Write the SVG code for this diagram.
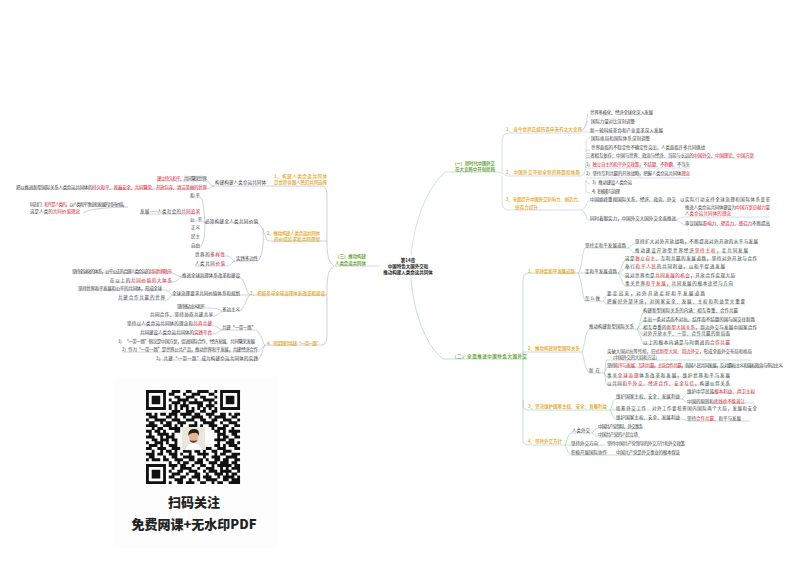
<svg xmlns="http://www.w3.org/2000/svg" width="800" height="565" viewBox="0 0 800 565">
<style>
text{font-family:"Noto Sans CJK SC","Liberation Sans",sans-serif;font-size:4.5px;fill:#444;dominant-baseline:central}
.o{fill:#e8a317;font-weight:500}
.g{fill:#4f9a10;font-weight:500}
.t{fill:#222;font-weight:700}
.r{fill:#d8202a}
.c{fill:none;stroke-width:.5;opacity:.75}
.b{stroke:#7d7dc9}
.u{stroke:#7fa8dc}
.n{stroke:#5fae8c}
.q{font-size:13px;font-weight:900;fill:#222;text-anchor:middle}
</style>
<rect width="800" height="565" fill="#fff"/>
<g id="connectors">
<path class="c u" d="M411 255C414 225 425 190 445 172H497C501 172 503 174 507 176H582M502 172V142C502 137 504 133 509 133H582M502 176V202C502 207 504 210 509 210H582"/>
<path class="c u" d="M582 132H663M582 130C586 128 586 122 588 114M582 131C587 126 586 120 588 122M582 176C586 174 585 168 586 160V142C586 139 588 138 590 138M586 150H590M586 158H754M586 166C586 168 586 168 588 168H690M586 178H690M586 180V190C586 192 588 193 590 193M586 180C586 182 588 184 590 184M582 210C586 208 586 204 588 201H676M582 210C586 213 586 218 588 220H676M676 220C680 218 681 218 683 217H770M676 220C680 222 682 224 685 225H770"/>
<path class="c n" d="M411 278C413 310 425 345 443 359H527M523 359V280C523 276 525 273 528 273H578M523 359V352H582M523 359V405C523 408 525 410 528 410H610M523 400V440C523 443 525 445 528 445H565"/>
<path class="c n" d="M578 273C582 270 582 252 585 248H628M578 273H618M578 273C582 280 582 295 585 301H603M628 248C632 246 632 244 634 243H758M628 248C632 250 632 252 634 253H748M618 273C622 270 622 262 625 260H757M618 273C622 272 623 269 625 268H725M618 273C622 274 623 276 625 277H735M618 273C622 278 622 284 625 286H733M603 301C606 300 605 296 607 295H705M603 301C605 302 605 304 607 304H745"/>
<path class="c n" d="M582 352C585 345 585 332 589 329H637M582 352C585 362 585 368 589 373H604M637 329C641 325 640 315 643 313H738M637 329C641 326 641 323 643 321H755M637 329H757M637 329C641 332 641 335 643 336H730M637 329C641 335 641 342 643 344H730M604 373C606 370 605 362 607 360H750M604 373C606 372 606 368 607 367H783M604 373C606 375 605 376 607 377H730M604 373C606 378 605 383 607 385H730"/>
<path class="c n" d="M610 410C613 405 612 400 616 399H682M610 410H650M610 410C613 415 612 418 616 419H682M682 399C685 397 685 394 687 393H755M682 399C685 400 685 402 687 403H755M682 419C685 420 685 420 687 421H750"/>
<path class="c n" d="M565 445C568 440 567 435 571 433H592M565 445H605M565 445C568 450 567 453 571 455H680M592 433C595 430 595 429 598 428H643M592 433C595 434 595 436 598 437H640"/>
<path class="c b" d="M379 266H334M334 266C327 262 327 250 327 240V195C327 190 325 186 322 186H214M334 266C327 270 327 280 327 295V335C327 342 325 345 322 345H265M327 241H268M327 295H250"/>
<path class="c b" d="M214 186C210 186 210 183 208 181H157M214 186C211 186 210 189 207 189H16M268 241C265 238 264 228 258 223H205M263 228C264 240 263 256 258 261H235M235 261C232 260 232 258 228 256H195M235 261C232 262 232 264 228 266H195M205 223C204 215 204 200 200 197H190M205 223C204 221 203 221 200 221H190M205 223C205 235 204 243 200 247H191M140 214H200M83 213C86 212 86 208 128 207"/>
<path class="c b" d="M250 295C245 290 246 282 240 277H182M250 295H172M250 295C245 300 246 306 240 311H222M182 277C178 276 177 275 172 273H72M182 277C178 279 177 282 172 282H110M172 295C170 293 170 292 165 290H78M172 295C170 297 170 300 165 300H118M222 311C219 310 219 308 205 308H177M222 311C219 313 218 316 213 316H150"/>
<path class="c b" d="M265 345C262 342 262 334 256 330H222M222 330C219 329 218 327 212 325H127M222 330C219 331 218 334 212 334H140M265 345C262 347 262 350 258 352H122M265 345C262 350 262 356 258 360H156"/>
</g>
<g id="root"><text class="t" x="408" y="260" text-anchor="middle">第14章</text><text class="t" x="408" y="266" text-anchor="middle">中国特色大国外交和</text><text class="t" x="408" y="272" text-anchor="middle">推动构建人类命运共同体</text></g>
<g id="b1"><text class="g" x="452" y="163" textLength="43">（一）新时代中国外交</text><text class="g" x="455" y="169" textLength="40">在大变局中开创新局</text></g>
<g id="b1-1"><text class="o" x="506" y="129" textLength="76">1、当今世界正经历百年未有之大变局</text></g>
<g id="b1-1a"><text x="590" y="112" textLength="63">世界多极化、经济全球化深入发展</text></g>
<g id="b1-1b"><text x="591" y="121" textLength="44">国际力量对比深刻调整</text></g>
<g id="b1-1c"><text x="590" y="130" textLength="73">新一轮科技革命和产业变革深入发展</text></g>
<g id="b1-2"><text class="o" x="506" y="172" textLength="74">2、中国外交开创全新的局面和格局</text></g>
<g id="b1-2a"><text x="591" y="138" textLength="59">国际格局和国际体系深刻调整</text></g>
<g id="b1-2b"><text x="591" y="147" textLength="114">世界面临的不稳定性不确定性突出，人类面临许多共同挑战</text></g>
<g id="b1-2c"><text x="586" y="155" textLength="168">三者相互依存：中国与世界、政治与经济、当前与长远的<tspan class="r">中国外交、中国理论、中国方案</tspan></text></g>
<g id="b1-2d"><text x="586" y="164" textLength="104">1）<tspan class="r">独立自主的和平外交政策，不结盟、不称霸</tspan>、不当头</text></g>
<g id="b1-2e"><text x="586" y="173" textLength="104">2）坚持互利共赢的开放战略，把握人类命运共同体<tspan class="r">理念</tspan></text></g>
<g id="b1-2f"><text x="592" y="182" textLength="40">3）推动建设人类命运</text></g>
<g id="b1-2g"><text x="592" y="191" textLength="28">4）积极参与治理</text></g>
<g id="b1-3"><text class="o" x="506" y="199" textLength="76">3、全面提升中国外交影响力、创造力、</text><text class="o" x="515" y="207" textLength="23">感召力提升</text></g>
<g id="b1-3a"><text x="590" y="199" textLength="86">中国始终重视国际关系、经济、政治、外交</text><text x="680" y="199" textLength="90">以实际行动支持全球治理和国际体系变革</text></g>
<g id="b1-3b"><text x="590" y="218" textLength="86">同时着眼实力，中国外交大国外交全面推进</text></g>
<g id="b1-3c"><text x="685" y="207" textLength="85">推进人类命运共同体建设为<tspan class="r">中国方案贡献力量</tspan></text><text x="685" y="213" textLength="46" class="r">人类命运共同体的理念</text></g>
<g id="b1-3d"><text x="685" y="223" textLength="85">审议国际<tspan class="r">影响力、塑造力、感召力</tspan>不断提高</text></g>
<g id="b2"><text class="g" x="452" y="356" textLength="75">（二）全面推进中国特色大国外交</text></g>
<g id="b2-1"><text class="o" x="528" y="271" textLength="47">1、坚持走和平发展道路</text></g>
<g id="b2-1a"><text x="585" y="245" textLength="41">坚持走和平发展道路</text></g>
<g id="b2-1a1"><text x="635" y="241" textLength="123">坚持扩大对外开放战略，不断提高对外开放的水平与发展</text></g>
<g id="b2-1a2"><text x="635" y="250" textLength="113">推动建设开放型世界经济<tspan class="r">坚持主权</tspan>，走共同发展</text></g>
<g id="b2-1b"><text x="585" y="271" textLength="32">走和平发展道路</text></g>
<g id="b2-1b1"><text x="625" y="258" textLength="132">这是<tspan class="r">独立自主</tspan>、互利共赢的发展道路，坚持对外开放与合作</text></g>
<g id="b2-1b2"><text x="625" y="266" textLength="100">奉行<tspan class="r">和平人民</tspan>的共同利益，以和平促进发展</text></g>
<g id="b2-1b3"><text x="625" y="275" textLength="110">这对世界也是<tspan class="r">共同发展的机会</tspan>，开放合作实现大局</text></g>
<g id="b2-1b4"><text x="625" y="283" textLength="108">事关世界<tspan class="r">和平发展</tspan>，共同发展的根本途径与方向</text></g>
<g id="b2-1c"><text x="585" y="298" textLength="15">怎么做</text></g>
<g id="b2-1c1"><text x="607" y="293" textLength="98">要走出来，对外开放走好和平发展道路</text></g>
<g id="b2-1c2"><text x="607" y="301" textLength="138">把握好外部环境，对国家安全、发展、主权和利益至关重要</text></g>
<g id="b2-2"><text class="o" x="528" y="348" textLength="52">2、推动构建新型国际关系</text></g>
<g id="b2-2a"><text x="589" y="326" textLength="45">推动构建新型国际关系</text></g>
<g id="b2-2a1"><text x="643" y="310" textLength="95">构建新型国际关系的内涵：相互尊重、合作共赢</text></g>
<g id="b2-2a2"><text x="643" y="319" textLength="112">走出一条对话而不对抗、结伴而不结盟的国与国交往新路</text></g>
<g id="b2-2a3"><text x="643" y="327" textLength="114">相互尊重的<tspan class="r">新型大国关系</tspan>，周边外交与发展中国家合作</text></g>
<g id="b2-2a4"><text x="643" y="333" textLength="87">对外开放水平、一带、合作共赢的新局面</text></g>
<g id="b2-2a5"><text x="643" y="342" textLength="87">以上的根本内涵是与时俱进的<tspan class="r">合作共赢</tspan></text></g>
<g id="b2-2b"><text x="589" y="370" textLength="11">新在</text></g>
<g id="b2-2b1"><text x="607" y="351" textLength="145">突破大国对抗等传统，旧式<tspan class="r">新型大国、周边外交</tspan>，形成全面外交布局和格局</text><text x="610" y="357" textLength="50">（中国外交的大局和方法）</text></g>
<g id="b2-2b2"><text x="607" y="365" textLength="176">坚持<tspan class="r">和平与发展、互利共赢</tspan>，<tspan class="r">主张合作共赢</tspan>，各国人民共同发展，反对霸权主义和强权政治与单边主义</text></g>
<g id="b2-2b3"><text x="607" y="375" textLength="123">事关<tspan class="r">全球治理</tspan>体系改革和发展，维护世界和平与发展</text></g>
<g id="b2-2b4"><text x="607" y="383" textLength="123">以共同<tspan class="r">和平外交、经济合作、安全互信</tspan>，构建伙伴关系</text></g>
<g id="b2-3"><text class="o" x="528" y="406" textLength="79">3、坚决维护国家主权、安全、发展利益</text></g>
<g id="b2-3a"><text x="616" y="396" textLength="64">维护国家主权、安全、发展利益</text></g>
<g id="b2-3a1"><text x="687" y="391" textLength="68">维护中华民族<tspan class="r">根本利益、捍卫主权</tspan></text></g>
<g id="b2-3a2"><text x="687" y="401" textLength="58">中国的原则和<tspan class="r">底线绝不能退让</tspan></text></g>
<g id="b2-3b"><text x="616" y="408" textLength="30">统筹外交工作</text></g>
<g id="b2-3b1"><text x="652" y="408" textLength="105">对外工作要统筹国内国际两个大局，发展和安全</text></g>
<g id="b2-3c"><text x="616" y="417" textLength="64">维护国家主权、安全、发展利益</text></g>
<g id="b2-3c1"><text x="687" y="418" textLength="54">坚持<tspan class="r">合作共赢</tspan>、和平与发展</text></g>
<g id="b2-4"><text class="o" x="528" y="441" textLength="34">4、坚持外交方针</text></g>
<g id="b2-4a"><text x="572" y="430" textLength="18">人类外交</text></g>
<g id="b2-4a1"><text x="598" y="426" textLength="45">中国共产党领导、外交事务</text></g>
<g id="b2-4a2"><text x="598" y="434" textLength="40">中国共产党的人民立场</text></g>
<g id="b2-4b"><text x="571" y="443" textLength="27">坚持外交方向</text></g>
<g id="b2-4b1"><text x="607" y="443" textLength="78">坚持中国共产党领导的外交方针和外交政策</text></g>
<g id="b2-4c"><text x="571" y="452" textLength="36">积极开展国际协作</text></g>
<g id="b2-4c1"><text x="616" y="452" textLength="64">中国共产党是外交事业的根本保证</text></g>
<g id="b3"><text class="g" x="335" y="256" textLength="31">（三）推动构建</text><text class="g" x="335" y="263" textLength="31">人类命运共同体</text></g>
<g id="b3-1"><text class="o" x="274" y="176" textLength="53">1、构建人类命运共同体</text><text class="o" x="274" y="182" textLength="53">是世界各国人民的共同选择</text></g>
<g id="b3-1a"><text x="215" y="182" textLength="51">构建构建人类命运共同体</text></g>
<g id="b3-1a1"><text x="157" y="178" textLength="50"><tspan class="r">建立持久和平</tspan>、共同繁荣世界</text></g>
<g id="b3-1a2"><text x="16" y="187" textLength="191">把以推进新型国际关系人类命运共同体的<tspan class="r">持久和平、普遍安全、共同繁荣、开放包容、清洁美丽的世界</tspan></text></g>
<g id="b3-2"><text class="o" x="267" y="233" textLength="53">2、推动构建人类命运共同体</text><text class="o" x="274" y="239" textLength="46">的价值追求和共同理想</text></g>
<g id="b3-2a"><text x="205" y="221" textLength="53">必须构建全人类共同价值</text></g>
<g id="b3-2b"><text x="236" y="258" textLength="22">实践多边性</text></g>
<g id="b3-2a1"><text x="190" y="195" textLength="10">和平</text></g>
<g id="b3-2a2"><text x="30" y="204" textLength="97">同志们：<tspan class="r">和平是人类的</tspan>，以人类和平事业和发展的共同价值，</text><text x="30" y="211" textLength="50">这是人类的<tspan class="r">共同价值理念</tspan></text></g>
<g id="b3-2a3"><text x="140" y="211" textLength="60">发展——人类社会的<tspan class="r">共同追求</tspan></text></g>
<g id="b3-2a4"><text x="190" y="219" textLength="12">公平</text></g>
<g id="b3-2a5"><text x="191" y="227" textLength="9">正义</text></g>
<g id="b3-2a6"><text x="191" y="236" textLength="9">民主</text></g>
<g id="b3-2a7"><text x="191" y="245" textLength="9">自由</text></g>
<g id="b3-2b1"><text x="195" y="254" textLength="30">世界的<tspan class="r">多样性</tspan></text></g>
<g id="b3-2b2"><text x="195" y="263" textLength="30">人类共同<tspan class="r">价值</tspan></text></g>
<g id="b3-3"><text class="o" x="250" y="293" textLength="75">3、积极参与全球治理体系改革和建设</text></g>
<g id="b3-3a"><text x="182" y="275" textLength="58">推进全球治理体系改革和建设</text></g>
<g id="b3-3a1"><text x="72" y="271" textLength="100">坚持全球化的体系，公平公正的合理人类命运的<tspan class="r">共同世界秩序</tspan></text></g>
<g id="b3-3a2"><text x="110" y="280" textLength="62">在以上的<tspan class="r">共同价值的大体系</tspan></text></g>
<g id="b3-3b"><text x="172" y="293" textLength="68">全球治理要求共同价值体系和规划</text></g>
<g id="b3-3b1"><text x="78" y="288" textLength="84">坚持世界和平发展和公平的共同体，形成全球</text></g>
<g id="b3-3b2"><text x="118" y="297" textLength="47">共建合作共赢的世界</text></g>
<g id="b3-3c"><text x="222" y="309" textLength="18">多边主义</text></g>
<g id="b3-3c1"><text x="177" y="306" textLength="28">坚持多边主义和平</text></g>
<g id="b3-3c2"><text x="150" y="314" textLength="63">共同合作、坚持协商共建共享</text></g>
<g id="b3-4"><text class="o" x="267" y="343" textLength="54">4、坚定践行共建“一带一路”</text></g>
<g id="b3-4a"><text x="222" y="327" textLength="34">共建“一带一路”</text></g>
<g id="b3-4a1"><text x="127" y="323" textLength="85">坚持以人类命运共同体的理念和<tspan class="r">共商共建</tspan></text></g>
<g id="b3-4a2"><text x="140" y="332" textLength="72">共同建设人类命运共同体的<tspan class="r">实践平台</tspan></text></g>
<g id="b3-4b"><text x="118" y="341" textLength="137">1）“一带一路”倡议是中国方案，促进国际合作、经济发展、共同繁荣发展</text></g>
<g id="b3-4c"><text x="122" y="349" textLength="136">2）作为“一带一路”是世界公共产品，推动世界和平发展，共建经济合作</text></g>
<g id="b3-4d"><text x="156" y="358" textLength="102">3）共建“一带一路”成为构建命运共同体的实践</text></g>
<g id="promo">
<rect x="113" y="378" width="165" height="170" fill="#fdfdfd"/>
<path transform="translate(146 390) scale(2.85)" fill="none" stroke="#111" stroke-width="1.02" d="M0 .5h7M9 .5h3M14 .5h2M18 .5h4M24 .5h1M26 .5h7
M0 1.5h1M6 1.5h1M8 1.5h2M13 1.5h1M16 1.5h3M22 1.5h2M26 1.5h1M32 1.5h1
M0 2.5h1M2 2.5h3M6 2.5h1M10 2.5h2M14 2.5h3M19 2.5h2M24 2.5h1M26 2.5h1M28 2.5h3M32 2.5h1
M0 3.5h1M2 3.5h3M6 3.5h1M8 3.5h1M11 3.5h4M17 3.5h1M20 3.5h4M26 3.5h1M28 3.5h3M32 3.5h1
M0 4.5h1M2 4.5h3M6 4.5h1M9 4.5h3M13 4.5h1M15 4.5h5M22 4.5h1M24 4.5h1M26 4.5h1M28 4.5h3M32 4.5h1
M0 5.5h1M6 5.5h1M8 5.5h1M10 5.5h1M12 5.5h3M18 5.5h2M21 5.5h3M26 5.5h1M32 5.5h1
M0 6.5h7M8 6.5h1M10 6.5h1M12 6.5h1M14 6.5h1M16 6.5h1M18 6.5h1M20 6.5h1M22 6.5h1M24 6.5h1M26 6.5h7
M9 7.5h3M14 7.5h3M19 7.5h2M23 7.5h2
M0 8.5h2M3 8.5h1M5 8.5h2M8 8.5h3M12 8.5h4M17 8.5h2M21 8.5h3M26 8.5h2M29 8.5h1M31 8.5h2
M1 9.5h3M7 9.5h2M10 9.5h1M13 9.5h1M16 9.5h4M22 9.5h1M24 9.5h4M30 9.5h2
M0 10.5h1M3 10.5h4M9 10.5h3M14 10.5h3M19 10.5h2M23 10.5h2M27 10.5h3M32 10.5h1
M1 11.5h2M5 11.5h1M7 11.5h2M11 11.5h3M17 11.5h1M20 11.5h4M26 11.5h1M29 11.5h3
M0 12.5h4M6 12.5h3M10 12.5h1M12 12.5h1M15 12.5h3M19 12.5h1M22 12.5h3M27 12.5h2M31 12.5h2
M2 13.5h1M4 13.5h2M8 13.5h4M14 13.5h2M18 13.5h2M23 13.5h1M25 13.5h3M30 13.5h1
M0 14.5h2M3 14.5h2M6 14.5h1M10 14.5h2M16 14.5h1M24 14.5h2M27 14.5h1M29 14.5h4
M1 15.5h1M4 15.5h4M9 15.5h1M25 15.5h3M30 15.5h2
M0 16.5h3M5 16.5h1M7 16.5h3M25 16.5h1M27 16.5h2M31 16.5h2
M2 17.5h2M5 17.5h3M9 17.5h2M24 17.5h4M29 17.5h2
M0 18.5h1M3 18.5h3M7 18.5h1M10 18.5h1M25 18.5h1M28 18.5h3M32 18.5h1
M1 19.5h3M5 19.5h1M8 19.5h3M24 19.5h2M27 19.5h1M29 19.5h3
M0 20.5h2M4 20.5h3M9 20.5h3M14 20.5h2M18 20.5h1M21 20.5h2M25 20.5h3M31 20.5h2
M2 21.5h1M5 21.5h1M7 21.5h2M10 21.5h1M13 21.5h3M17 21.5h2M20 21.5h1M23 21.5h2M27 21.5h3
M0 22.5h3M4 22.5h2M8 22.5h3M12 22.5h1M15 22.5h1M18 22.5h4M24 22.5h1M26 22.5h2M30 22.5h3
M1 23.5h2M6 23.5h1M9 23.5h2M13 23.5h4M20 23.5h1M23 23.5h3M28 23.5h4
M0 24.5h1M2 24.5h3M6 24.5h2M10 24.5h3M15 24.5h2M18 24.5h2M21 24.5h1M24 24.5h2M27 24.5h2M31 24.5h2
M8 25.5h1M11 25.5h1M13 25.5h2M17 25.5h3M22 25.5h3M26 25.5h3M30 25.5h2
M0 26.5h7M8 26.5h3M12 26.5h2M16 26.5h1M19 26.5h2M23 26.5h1M25 26.5h5M31 26.5h2
M0 27.5h1M6 27.5h1M9 27.5h1M12 27.5h4M18 27.5h1M21 27.5h3M26 27.5h1M28 27.5h1M30 27.5h3
M0 28.5h1M2 28.5h3M6 28.5h1M8 28.5h1M11 28.5h2M15 28.5h3M20 28.5h1M22 28.5h3M26 28.5h4M32 28.5h1
M0 29.5h1M2 29.5h3M6 29.5h1M9 29.5h3M14 29.5h1M17 29.5h2M21 29.5h1M24 29.5h3M28 29.5h1M30 29.5h2
M0 30.5h1M2 30.5h3M6 30.5h1M8 30.5h2M12 30.5h2M16 30.5h3M20 30.5h3M25 30.5h1M27 30.5h4M32 30.5h1
M0 31.5h1M6 31.5h1M10 31.5h3M15 31.5h1M18 31.5h1M21 31.5h4M27 31.5h2M30 31.5h3
M0 32.5h7M8 32.5h1M11 32.5h2M14 32.5h3M19 32.5h2M23 32.5h1M25 32.5h2M29 32.5h4"/>
<rect x="182" y="427" width="23" height="23" fill="#ebe6dc"/>
<path d="M185 450C186 444 190 443 193.500 443C197 443 201 444 202 450Z" fill="#fff" stroke="#bbb" stroke-width=".3"/>
<ellipse cx="193.500" cy="437" rx="4.500" ry="6" fill="#e6b592"/>
<path d="M188.500 436C187.500 430 192 428.500 195 429C199 429 199.500 433 198.500 436C198 433 196 432.500 194 433C192 433 190 433 188.500 436Z" fill="#2a211c"/>
<path d="M189.500 440C191 443.500 196 443.500 197.500 440C196 441 191 441 189.500 440Z" fill="#5a4236"/>
<text class="q" x="194" y="501">扫码关注</text>
<text class="q" x="194" y="523" textLength="125">免费网课+无水印PDF</text>
</g>
</svg>
